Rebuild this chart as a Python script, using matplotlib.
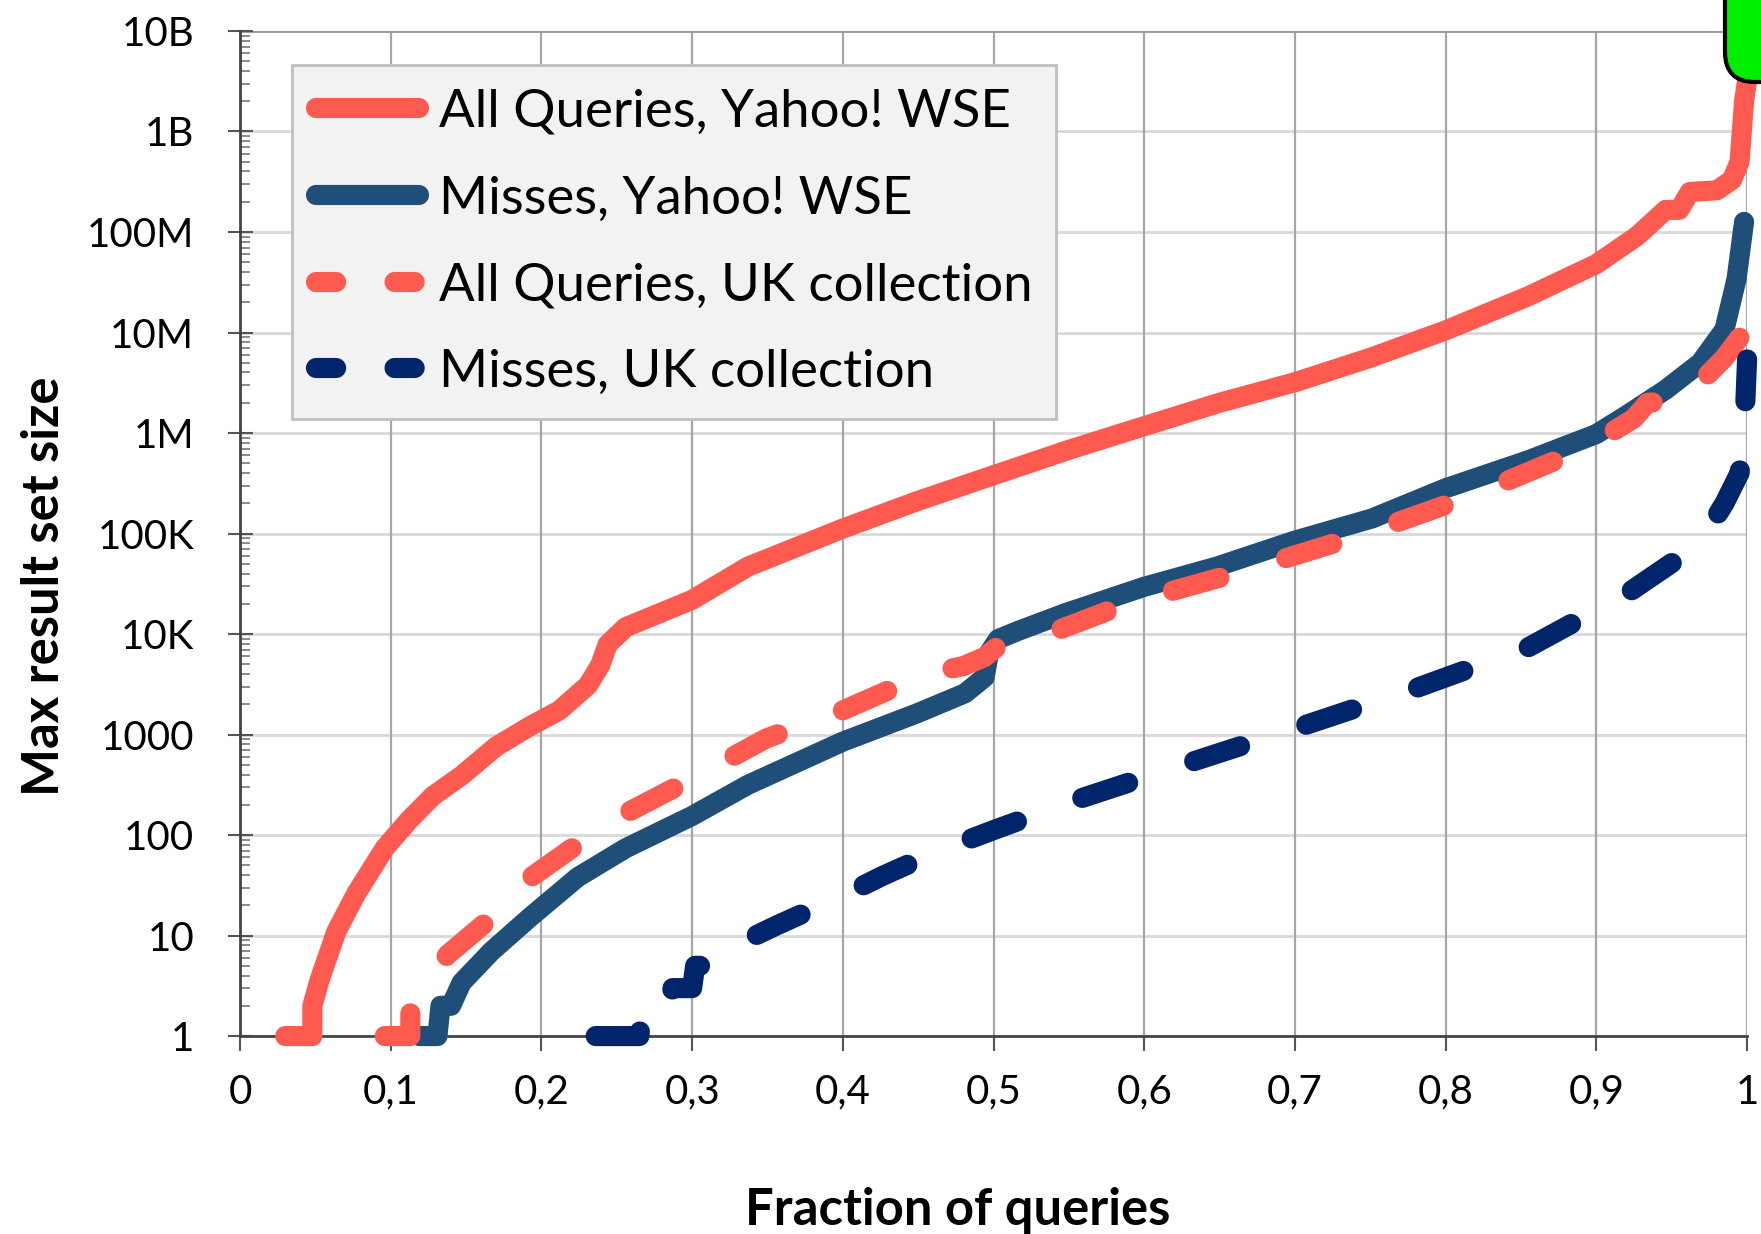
import numpy as np
import matplotlib.pyplot as plt
import matplotlib.patches as mpatches
from matplotlib.ticker import FixedLocator, LogLocator, NullFormatter

plt.rcParams['font.family'] = ['Lato', 'DejaVu Sans']

# values
x_all_yahoo = [0.030, 0.048, 0.048, 0.053, 0.064, 0.077, 0.096, 0.112, 0.128, 0.147,
               0.170, 0.192, 0.212, 0.231, 0.239, 0.244, 0.256, 0.300, 0.337, 0.400,
               0.449, 0.500, 0.550, 0.600, 0.650, 0.700, 0.750, 0.800, 0.855, 0.900,
               0.927, 0.946, 0.955, 0.962, 0.980, 0.990, 0.995, 0.998, 1.000]
y_all_yahoo = [1, 1, 2, 3.7, 11, 26, 74, 140, 245, 390,
               760, 1200, 1740, 3100, 4900, 7900, 11700, 21900, 46800, 112000,
               209000, 380000, 680000, 1.17e6, 2e6, 3.2e6, 5.6e6, 1.05e7, 2.3e7, 4.8e7,
               9.1e7, 1.66e8, 1.66e8, 2.5e8, 2.6e8, 3.3e8, 5e8, 2e9, 3.2e9]

x_miss_yahoo = [0.119, 0.131, 0.133, 0.140, 0.147, 0.167, 0.192, 0.224, 0.256, 0.300,
                0.337, 0.400, 0.449, 0.481, 0.494, 0.497, 0.503, 0.516, 0.548, 0.600,
                0.648, 0.700, 0.751, 0.800, 0.855, 0.900, 0.920, 0.946, 0.969, 0.985,
                0.993, 0.998]
y_miss_yahoo = [1, 1, 2, 2, 3.4, 7, 15, 38, 74, 155,
                316, 850, 1620, 2570, 3700, 6500, 8900, 10700, 16200, 29500,
                46800, 85000, 141000, 282000, 537000, 977000, 1.5e6, 2.7e6, 5e6, 1.07e7,
                3.4e7, 1.26e8]

x_all_uk = [0.096, 0.113, 0.113, 0.122, 0.138, 0.173, 0.186, 0.224, 0.250, 0.300,
            0.349, 0.400, 0.455, 0.480, 0.494, 0.503, 0.520, 0.590, 0.667, 0.745,
            0.818, 0.888, 0.907, 0.925, 0.934, 0.962, 0.969, 0.985, 0.995, 0.999]
y_all_uk = [1, 1, 2, 3.4, 6.5, 18, 32, 81, 148, 363,
            912, 1740, 4000, 4800, 5900, 7600, 8100, 20400, 42700, 97700,
            240000, 661000, 955000, 1.4e6, 2e6, 2.1e6, 3.2e6, 5.6e6, 8.9e6, 4e7]

x_miss_uk = [0.236, 0.265, 0.267, 0.285, 0.287, 0.300, 0.302, 0.318, 0.327, 0.356,
             0.400, 0.426, 0.462, 0.500, 0.555, 0.632, 0.706, 0.780, 0.855, 0.920,
             0.968, 0.985, 0.995, 0.998, 1.000]
y_miss_uk = [1, 1, 2, 2, 3, 3, 5, 5, 7.8, 12.6,
             25, 39, 68, 112, 224, 537, 1230, 2880, 7400, 25100,
             77600, 200000, 4e5, 1e6, 5.4e6]

x_ticks = [0, 0.1, 0.2, 0.3, 0.4, 0.5, 0.6, 0.7, 0.8, 0.9, 1.0]
x_tick_labels = ['0', '0,1', '0,2', '0,3', '0,4', '0,5', '0,6', '0,7', '0,8', '0,9', '1']
y_ticks = [1, 10, 100, 1e3, 1e4, 1e5, 1e6, 1e7, 1e8, 1e9, 1e10]
y_tick_labels = ['1', '10', '100', '1000', '10K', '100K', '1M', '10M', '100M', '1B', '10B']

red = '#FF5A4F'
steel = '#1F4E79'
navy = '#00256A'

fig = plt.figure(figsize=(17.61, 12.34), dpi=100)
ax = fig.add_axes([0.1363, 0.1604, 0.8558, 0.8145])

lw = 14.5
dash = (2.4, 3.45)
ax.plot(x_all_yahoo, y_all_yahoo, color=red, lw=lw, solid_capstyle='round',
        solid_joinstyle='round', clip_on=False, label='All Queries, Yahoo! WSE', zorder=3)
ax.plot(x_miss_yahoo, y_miss_yahoo, color=steel, lw=lw, solid_capstyle='round',
        solid_joinstyle='round', clip_on=False, label='Misses, Yahoo! WSE', zorder=3)
ax.plot(x_all_uk, y_all_uk, color=red, lw=lw, dashes=dash, dash_capstyle='round',
        dash_joinstyle='round', clip_on=False, label='All Queries, UK collection', zorder=3)
ax.plot(x_miss_uk, y_miss_uk, color=navy, lw=lw, dashes=dash, dash_capstyle='round',
        dash_joinstyle='round', clip_on=False, label='Misses, UK collection', zorder=3)

ax.set_xlim(0, 1)
ax.set_yscale('log')
ax.set_ylim(1, 1e10)

ax.xaxis.set_major_locator(FixedLocator(x_ticks))
ax.set_xticklabels(x_tick_labels)
ax.yaxis.set_major_locator(FixedLocator(y_ticks))
ax.set_yticklabels(y_tick_labels)
ax.yaxis.set_minor_locator(LogLocator(base=10, subs=np.arange(2, 10), numticks=20))
ax.yaxis.set_minor_formatter(NullFormatter())

ax.tick_params(axis='x', direction='out', length=11, width=1.5, color='#555555',
               labelsize=29, pad=16)
ax.tick_params(axis='y', which='major', direction='inout', length=18, width=1.5,
               color='#555555', labelsize=29, pad=24)
ax.tick_params(axis='y', which='minor', direction='in', length=7, width=1.2, color='#777777')

for x in x_ticks:
    ax.axvline(x, color='#a6a6a6', lw=1.6, zorder=1)
for y in y_ticks:
    ax.axhline(y, color='#d9d9d9', lw=2.0, zorder=0.9)
ax.axhline(1e10, color='#999999', lw=2.0, zorder=1)

for s in ['top', 'right']:
    ax.spines[s].set_visible(False)
for s in ['left', 'bottom']:
    ax.spines[s].set_color('#444444')
    ax.spines[s].set_linewidth(2)
    ax.spines[s].set_zorder(2)

ax.set_xlabel('Fraction of queries', fontsize=36.5, fontweight='bold')
ax.set_ylabel('Max result set size', fontsize=36.5, fontweight='bold')
ax.xaxis.set_label_coords(0.476, -0.150)
ax.yaxis.set_label_coords(-0.114, 0.448)

leg = ax.legend(loc='upper left', bbox_to_anchor=(0.0345, 0.966), borderaxespad=0,
                fontsize=38, frameon=True, fancybox=False, handlelength=1.95,
                handletextpad=0.38, labelspacing=0.75, borderpad=0.45)
leg.get_frame().set_facecolor('#F2F2F2')
leg.get_frame().set_edgecolor('#BFBFBF')
leg.get_frame().set_linewidth(2)
leg.get_frame().set_alpha(1)
leg.set_zorder(5)
for h in leg.legend_handles[2:]:
    h.set_dashes((1.0, 2.9))
    h.set_dash_capstyle('round')

# green marker box in the top right corner
box = mpatches.FancyBboxPatch((1725, 1152), 200, 200,
                              boxstyle='round,pad=0,rounding_size=30',
                              fc='#00EE00', ec='black', lw=3, transform=None)
fig.add_artist(box)

fig.savefig('out.png', dpi=100)
